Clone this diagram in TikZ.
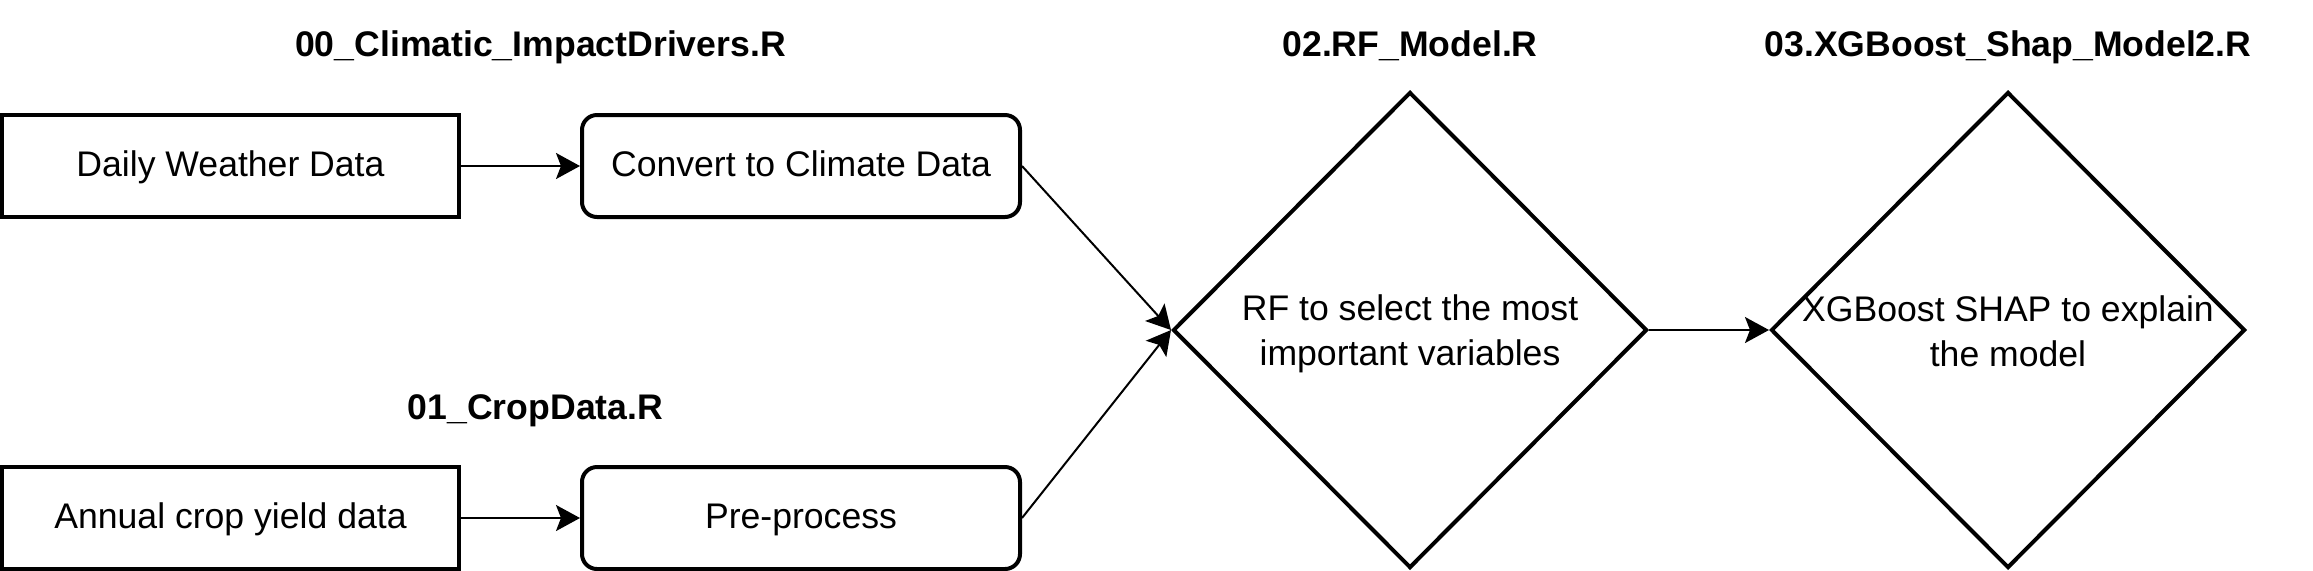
\documentclass[tikz,border=0pt]{standalone}
\usepackage{fontspec}
\setmainfont{Liberation Sans}
\usepackage{tikz}
\usetikzlibrary{positioning,shapes.geometric,arrows.meta}

\begin{document}
\begin{tikzpicture}[font=\fontsize{17.8pt}{22.5pt}\selectfont]
 	\tikzstyle{every label}=[text height=14.24pt, text depth=3.56pt]
 	\tikzstyle{data}=[rectangle, minimum width=228.5pt, minimum height=51pt, line width=2pt, draw=black]
 	\tikzstyle{proc}=[rectangle, rounded corners=7.5pt, minimum width=219pt, minimum height=51pt, line width=2pt, draw=black]
 	\tikzstyle{choice}=[diamond, minimum width=237pt, minimum height=238pt, line width=2pt, draw=black]
 	\tikzstyle{inside}=[align=center, text height=, text depth=]
 	\tikzstyle{connect}=[-{Stealth[length=12pt,width=13pt,inset=2.5pt]}, line width=1pt]
 	\tikzstyle{script}=[font=\fontsize{17.8pt}{22pt}\selectfont\bfseries, anchor=base]
 	\useasboundingbox (-115.25pt,83pt) rectangle (1041.25pt,-202pt);
 	\node[data] (daily) [label=center:Daily Weather Data] { };
 	\node[proc] (convert) [right=59.5pt of daily,label=center:Convert to Climate Data] { };
 		\node[data] (annual) [below=123pt of daily,label=center:Annual crop yield data] { };
 		\node[proc] (pre) [right=59.5pt of annual,label=center:Pre-process] { };
 	\node[choice] (rf) at (589.75pt,-82pt) [label={[inside, yshift=-2pt]center:RF to select the most\\important variables}] { };
 	\node[choice] (xgb) [right=60pt of rf,label={[inside, yshift=-0.5pt]center:XGBoost SHAP to explain\\the model}] { };
 	\coordinate (top) at (0,54.65pt);
 	\node[script] (t00) at (155pt,54.65pt) {00\_Climatic\_ImpactDrivers.R};
 	\node[script] (t01) at (152.5pt,-126.5pt) {01\_CropData.R};
 	\node[script] (t02) at (rf |- top) {02.RF\_Model.R};
 	\node[script] (t03) at (xgb |- top) {03.XGBoost\_Shap\_Model2.R};
 	\path (daily) edge [connect] (convert)
 	(annual) edge [connect] (pre)
 	(convert.east) edge [connect] (rf.west)
 	(pre.east) edge [connect] (rf.west)
 	(rf) edge [connect] (xgb);
\end{tikzpicture}
\end{document}
